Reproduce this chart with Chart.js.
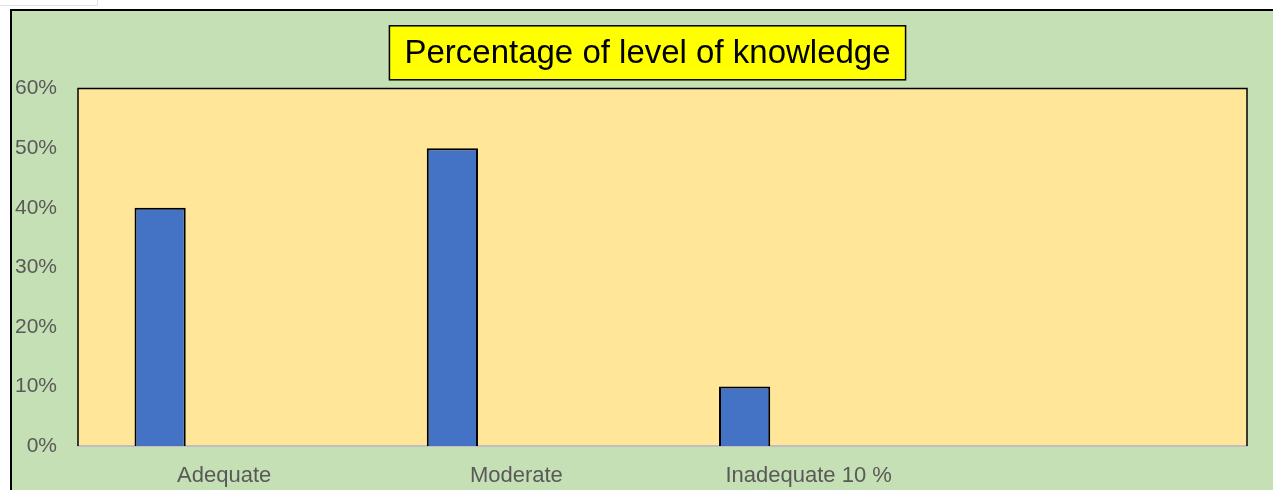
<!DOCTYPE html>
<html>
<head>
<meta charset="utf-8">
<script src="https://cdn.jsdelivr.net/npm/chart.js@4.4.1/dist/chart.umd.min.js"></script>
<style>
    html, body { margin: 0; padding: 0; background: #fff; overflow: hidden; width: 1273px; height: 490px; }
    #corner { position: absolute; left: -1px; top: -1px; width: 97px; height: 5px; border: 1px solid #e2e2e2; }
    #box { position: absolute; left: 10px; top: 9px; width: 1271px; height: 481px;
           border-left: 2px solid #000; border-top: 2px solid #000; background: #C5E0B4; }
    canvas { display: block; }
</style>
</head>
<body>
<div id="corner"></div>
<div id="box"><canvas id="chartNivel"></canvas></div>
<script>
// dados
const categorias = ['Adequate', 'Moderate', 'Inadequate 10 %', ''];
const percentuais = [40, 50, 10, null];
const serieVazia = [null, null, null, null];
const yMin = 0, yMax = 60, yPasso = 10;
const titulo = 'Percentage of level of knowledge';

const FONTE = '"Liberation Sans", Arial, sans-serif';

// fundo da area de plotagem + moldura preta (esq, topo, dir)
const molduraPlot = {
    id: 'molduraPlot',
    beforeDraw(chart) {
        const { ctx, chartArea: a } = chart;
        ctx.save();
        ctx.fillStyle = '#FFE699';
        ctx.fillRect(a.left, a.top, a.right - a.left, a.bottom - a.top);
        ctx.restore();
    },
    afterDatasetsDraw(chart) {
        const { ctx, chartArea: a } = chart;
        ctx.save();
        ctx.strokeStyle = '#000';
        ctx.lineWidth = 1.5;
        ctx.beginPath();
        ctx.moveTo(a.left, a.bottom);
        ctx.lineTo(a.left, a.top);
        ctx.lineTo(a.right, a.top);
        ctx.lineTo(a.right, a.bottom);
        ctx.stroke();
        ctx.restore();
    }
};

// caixa amarela atras do titulo
const caixaTitulo = {
    id: 'caixaTitulo',
    beforeDraw(chart) {
        const tb = chart.titleBlock;
        if (!tb) return;
        const { ctx } = chart;
        const opt = chart.options.plugins.title;
        ctx.save();
        ctx.font = opt.font.size + 'px ' + opt.font.family;
        const w = ctx.measureText(titulo).width;
        const cx = (tb.left + tb.right) / 2;
        const cy = tb.top + opt.padding.top + opt.font.size * 0.6 - 1;
        const bw = w + 30, bh = 54;
        ctx.fillStyle = '#FFFF00';
        ctx.fillRect(cx - bw / 2, cy - bh / 2, bw, bh);
        ctx.strokeStyle = '#000';
        ctx.lineWidth = 1.5;
        ctx.strokeRect(cx - bw / 2, cy - bh / 2, bw, bh);
        ctx.restore();
    }
};

const canvas = document.getElementById('chartNivel');
canvas.width = 1271;
canvas.height = 479;

new Chart(canvas, {
    type: 'bar',
    data: {
        labels: categorias,
        datasets: [{
            label: 'Percentual',
            data: percentuais,
            backgroundColor: '#4472C4',
            borderColor: '#000',
            borderWidth: 2,
            categoryPercentage: 0.876,
            barPercentage: 0.4
        }, {
            label: '',
            data: serieVazia,
            backgroundColor: 'transparent',
            categoryPercentage: 0.876,
            barPercentage: 0.4
        }]
    },
    options: {
        responsive: false,
        animation: false,
        layout: { padding: 0 },
        plugins: {
            legend: { display: false },
            tooltip: { enabled: false },
            title: {
                display: true,
                text: titulo,
                color: '#000',
                font: { family: FONTE, size: 33, weight: 'normal' },
                padding: { top: 23, bottom: 15 }
            }
        },
        scales: {
            x: {
                grid: { display: false, drawTicks: false },
                border: { display: true, color: '#BFBFBF', width: 2 },
                ticks: { color: '#595959', font: { family: FONTE, size: 22 }, padding: 17, maxRotation: 0 },
                afterFit: s => { s.height = 44; }
            },
            y: {
                min: yMin, max: yMax,
                grid: { display: false, drawTicks: false },
                border: { display: false },
                ticks: {
                    stepSize: yPasso,
                    color: '#595959',
                    font: { family: FONTE, size: 21 },
                    padding: 21,
                    callback: v => v + '%'
                },
                afterFit: s => { s.width = 66; }
            },
            // eixo vazio so para reservar a margem direita (mantem o titulo centrado)
            yMargem: {
                position: 'right',
                grid: { display: false, drawTicks: false },
                border: { display: false },
                ticks: { display: false },
                afterFit: s => { s.width = 36; }
            }
        }
    },
    plugins: [molduraPlot, caixaTitulo]
});
</script>
</body>
</html>
